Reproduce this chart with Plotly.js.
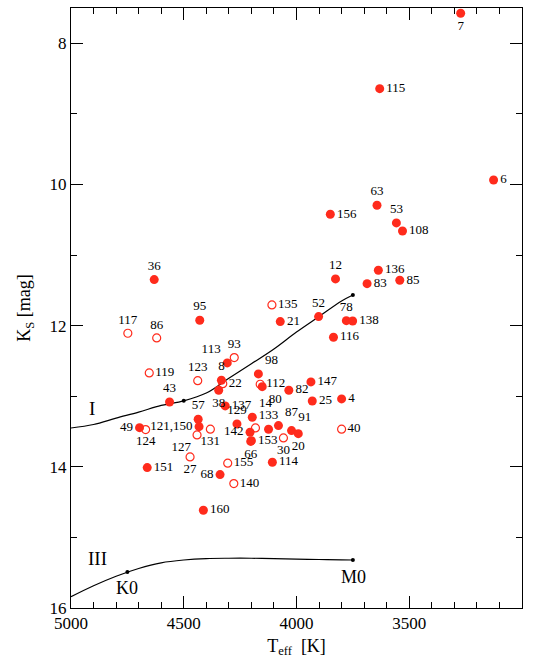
<!DOCTYPE html>
<html>
<head>
<meta charset="utf-8">
<script src="https://cdn.plot.ly/plotly-3.0.1.min.js"></script>
<style>html,body{margin:0;padding:0;background:#fff;}#chart{width:533px;height:659px;}</style>
</head>
<body>
<div id="chart"></div>
<script>
// ---- Data ----
// Filled symbols
const filledIds  = ["7","115","6","63","156","53","108","12","136","83","85","52","78","138","116","147","25","4","82","36","95","21","113","8","98","80","38","43","137","57","121,150","49","151","68","160","129","14","142","153","66","133","87","91","20","114"];
const filledTeff = [3272,3631,3126,3643,3850,3557,3530,3827,3637,3687,3542,3902,3779,3751,3836,3936,3930,3800,4034,4631,4429,4072,4307,4333,4169,4152,4345,4563,4316,4436,4432,4696,4662,4339,4413,4264,4196,4206,4200,4203,4124,4080,4022,3992,4107];
const filledKs   = [7.575,8.643,9.936,10.295,10.422,10.545,10.659,11.338,11.215,11.405,11.357,11.872,11.929,11.934,12.164,12.797,13.067,13.038,12.915,11.348,11.923,11.943,12.528,12.773,12.684,12.864,12.915,13.081,13.137,13.326,13.431,13.445,14.011,14.110,14.615,13.392,13.297,13.510,13.629,13.640,13.467,13.416,13.487,13.530,13.935];
// Open symbols (labelled)
const openIds  = ["135","117","86","93","119","123","22","112","124","127","131","27","155","140","30","40"];
const openTeff = [4109,4748,4620,4276,4653,4438,4327,4161,4669,4441,4382,4472,4305,4278,4058,3800];
const openKs   = [11.707,12.108,12.174,12.453,12.670,12.779,12.822,12.830,13.473,13.548,13.467,13.860,13.949,14.238,13.591,13.467];
// Open symbol without label
const openUnlabTeff = [4182];
const openUnlabKs   = [13.449];

// Sequences I and III
const seqTeff  = [5000,4900,4800,4700,4600,4500,4400,4300,4200,4100,4000,3900,3800,3750];
const seqI_Ks  = [13.45,13.40,13.31,13.225,13.13,13.065,12.955,12.745,12.54,12.33,12.09,11.87,11.65,11.565];
const seqIII_Ks= [15.84,15.685,15.55,15.44,15.36,15.32,15.30,15.295,15.295,15.30,15.308,15.313,15.317,15.32];
const dotsI_Teff   = [4500,3750];
const dotsIII_Teff = [4750,3750];
const seqIII_K0 = 15.49;

// ---- Label positions (style) ----
const filledPos = ["bottom center","middle right","middle right","top center","middle right","top center","middle right","top center","middle right","middle right","middle right","top center","top center","middle right","middle right","middle right","middle right","middle right","middle right","top center","top center","middle right","top left","top center","top right","bottom right","bottom center","top center","middle right","top center","middle left","middle left","middle right","middle left","middle right","top center","top right","middle left","middle right","bottom center","top center","top right","top right","bottom center","middle right"];
const openPos = ["middle right","top center","top center","top center","middle right","top center","middle right","middle right","bottom center","bottom left","bottom center","bottom center","middle right","middle right","bottom center","middle right"];

const RED = "#ff2b1c";
const FONT = "Liberation Serif";

function lookup(t, arrT, arrK){ return arrK[arrT.indexOf(t)]; }

const traces = [
  {x: seqTeff, y: seqI_Ks, mode: "lines", line: {color: "black", width: 1.2, shape: "spline"}},
  {x: seqTeff, y: seqIII_Ks, mode: "lines", line: {color: "black", width: 1.2, shape: "spline"}},
  {x: dotsI_Teff, y: dotsI_Teff.map(t => lookup(t, seqTeff, seqI_Ks)), mode: "markers", marker: {color: "black", size: 4}},
  {x: dotsIII_Teff, y: [seqIII_K0, lookup(3750, seqTeff, seqIII_Ks)], mode: "markers", marker: {color: "black", size: 4}},
  {x: openUnlabTeff, y: openUnlabKs, mode: "markers",
   marker: {symbol: "circle-open", color: RED, size: 8, line: {color: RED, width: 1.2}}},
  {x: openTeff, y: openKs, mode: "markers+text", text: openIds, textposition: openPos,
   textfont: {family: FONT, size: 13, color: "black"},
   marker: {symbol: "circle-open", color: RED, size: 8, line: {color: RED, width: 1.2}}},
  {x: filledTeff, y: filledKs, mode: "markers+text", text: filledIds, textposition: filledPos,
   textfont: {family: FONT, size: 13, color: "black"},
   marker: {symbol: "circle", color: RED, size: 9}}
];

const layout = {
  width: 533, height: 659,
  margin: {l: 71, r: 11, t: 8, b: 51},
  showlegend: false,
  paper_bgcolor: "white", plot_bgcolor: "white",
  font: {family: FONT, color: "black"},
  xaxis: {
    range: [5000, 3000], showline: true, mirror: "ticks", ticks: "inside", ticklen: 12, tickcolor: "#000", linecolor: "#000",
    minor: {dtick: 100, ticklen: 6, ticks: "inside"}, dtick: 500, tickmode: "linear", tick0: 3000,
    showgrid: false, zeroline: false, tickfont: {family: FONT, size: 17},
    title: {text: "T<sub>eff</sub>  [K]", font: {family: FONT, size: 18}, standoff: 6}
  },
  yaxis: {
    range: [16, 7.5], showline: true, mirror: "ticks", ticks: "inside", ticklen: 12, tickcolor: "#000", linecolor: "#000",
    minor: {dtick: 1, ticklen: 6, ticks: "inside"}, dtick: 2, tickmode: "linear", tick0: 8,
    showgrid: false, zeroline: false, tickfont: {family: FONT, size: 17},
    title: {text: "K<sub>S</sub> [mag]", font: {family: FONT, size: 18}, standoff: 14}
  },
  annotations: [
    {x: 4907, y: 13.17, text: "I", showarrow: false, font: {family: FONT, size: 19}},
    {x: 4883, y: 15.30, text: "III", showarrow: false, font: {family: FONT, size: 19}},
    {x: 4751, y: 15.72, text: "K0", showarrow: false, font: {family: FONT, size: 18}},
    {x: 3747, y: 15.555, text: "M0", showarrow: false, font: {family: FONT, size: 18}}
  ]
};

Plotly.newPlot("chart", traces, layout, {displayModeBar: false});
</script>
</body>
</html>
